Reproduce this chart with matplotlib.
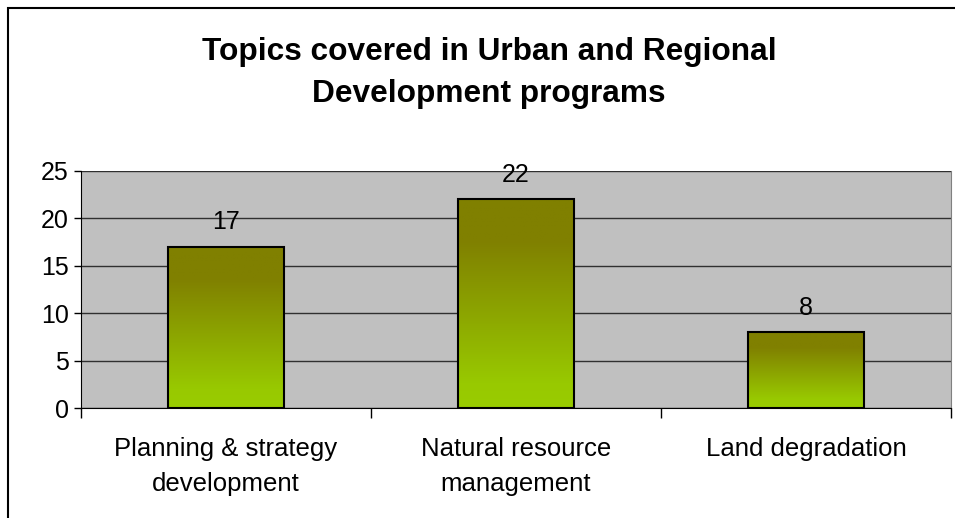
import numpy as np
import matplotlib
matplotlib.use('Agg')
import matplotlib.pyplot as plt
from matplotlib.patches import Rectangle
from matplotlib.colors import LinearSegmentedColormap

categories = ['Planning & strategy\ndevelopment', 'Natural resource\nmanagement', 'Land degradation']
values = [17, 22, 8]
y_ticks = [0, 5, 10, 15, 20, 25]
title = 'Topics covered in Urban and Regional\nDevelopment programs'

plt.rcParams['font.family'] = ['Liberation Sans', 'DejaVu Sans']

fig = plt.figure(figsize=(9.55, 5.18), dpi=100)
fig.patch.set_facecolor('white')

# chart frame (cut off at right and bottom like the source)
fig.add_artist(Rectangle((8 / 955, -0.1), 1.2, 1 - 8 / 518 + 0.1, transform=fig.transFigure,
                         fill=False, edgecolor='black', linewidth=1.5))

ax = fig.add_axes([81 / 955, 110 / 518, 870 / 955, 237 / 518])
ax.set_facecolor('#C0C0C0')

x = np.arange(len(categories))
bars = ax.bar(x, values, width=0.4, color='none', edgecolor='black', linewidth=1.5, zorder=3)

# vertical gradient olive (top) -> light green (bottom) inside each bar
cmap = LinearSegmentedColormap.from_list('grad', [(0, '#99CC00'), (0.12, '#98C900'),
                                                  (0.8, '#808000'), (1, '#808000')])
grad = np.linspace(0, 1, 256).reshape(-1, 1)
for b in bars:
    x0, w, h = b.get_x(), b.get_width(), b.get_height()
    ax.imshow(grad, cmap=cmap, aspect='auto', origin='lower',
              extent=[x0, x0 + w, 0, h], zorder=2)

for xi, v in zip(x, values):
    ax.annotate(str(v), (xi, v), xytext=(0, 9), textcoords='offset points',
                ha='center', va='bottom', fontsize=18, zorder=4)

ax.set_xlim(-0.5, len(categories) - 0.5)
ax.set_ylim(0, 25)
ax.set_yticks(y_ticks)
ax.yaxis.grid(True, color='#303030', linewidth=1.0, zorder=1)
ax.set_axisbelow(True)

ax.set_xticks(np.arange(-0.5, len(categories)), labels=[''] * (len(categories) + 1))
ax.set_xticks(x, labels=categories, minor=True)
ax.tick_params(axis='x', which='major', length=7, width=1, color='black', direction='out')
ax.tick_params(axis='x', which='minor', length=0, pad=21, labelsize=18.5)
ax.tick_params(axis='y', length=5, width=1, pad=4, labelsize=18)
for lbl in ax.get_xticklabels(minor=True):
    lbl.set_linespacing(1.55)

ax.spines['top'].set_visible(False)
ax.spines['right'].set_color('#808080')
ax.spines['left'].set_color('black')
ax.spines['bottom'].set_color('black')

fig.text(489 / 955, 1 - 73 / 518, title, ha='center', va='center',
         fontsize=22.8, fontweight='bold', linespacing=1.5)

fig.savefig('out.png', dpi=100)
